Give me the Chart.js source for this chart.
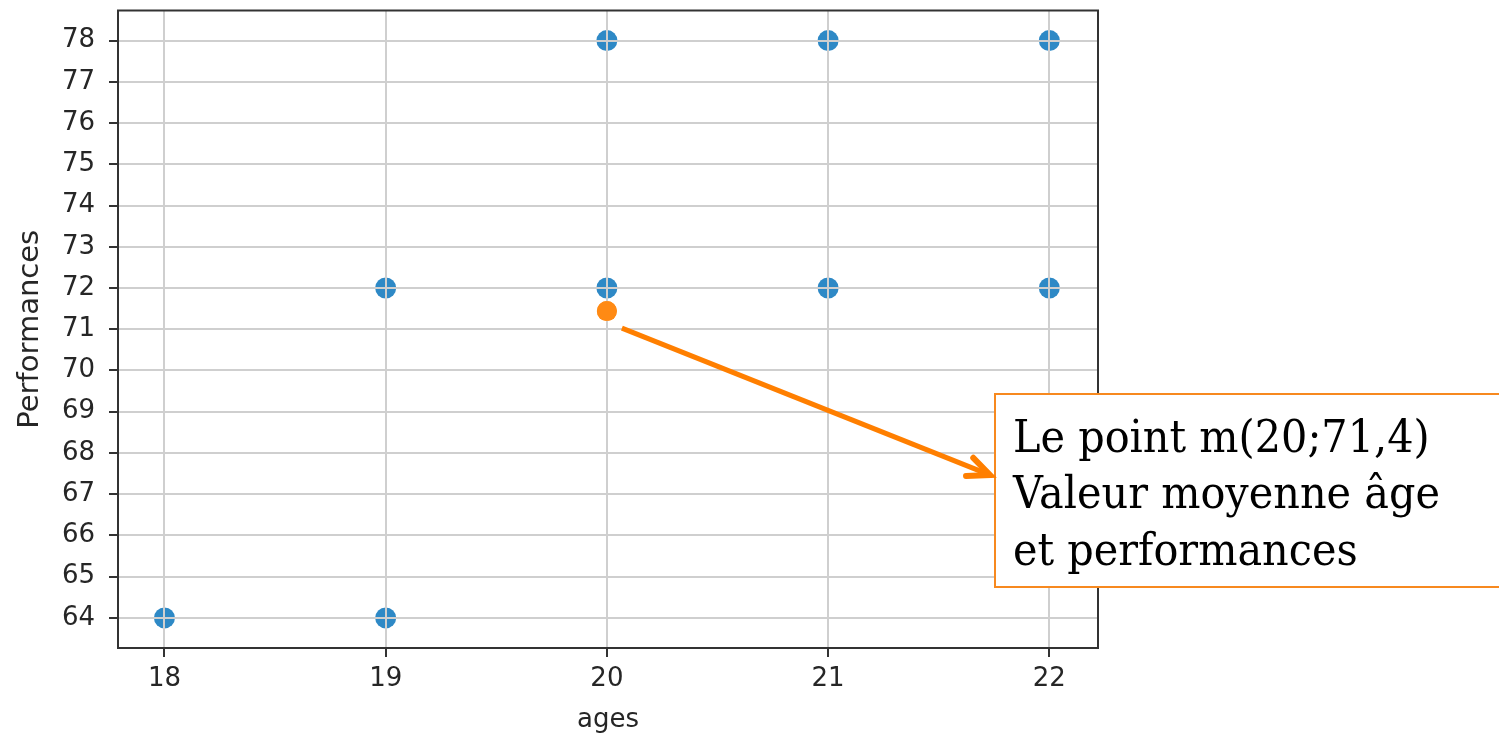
<!DOCTYPE html>
<html>
<head>
<meta charset="utf-8">
<script src="https://cdn.jsdelivr.net/npm/chart.js@4"></script>
<style>
html,body{margin:0;padding:0;background:#fff;}
canvas{display:block;}
</style>
</head>
<body>
<canvas id="c" width="1499" height="737"></canvas>
<script>
// ---- data ----
const ages = [18, 19, 19, 20, 20, 21, 21, 22, 22];
const performances = [64, 64, 72, 72, 78, 72, 78, 72, 78];
const meanAge = [20];
const meanPerformance = [71.44];
const xTicks = [18, 19, 20, 21, 22];
const yTicks = [64, 65, 66, 67, 68, 69, 70, 71, 72, 73, 74, 75, 76, 77, 78];
const annotationLines = ["Le point m(20;71,4)", "Valeur moyenne âge", "et performances"];

const blue = '#2e89c6';
const orange = '#ff8a14';

const framePlugin = {
  id: 'frame',
  afterDraw(chart) {
    const ctx = chart.ctx;
    const a = chart.chartArea;
    // redraw the mean point above grid
    chart.getDatasetMeta(1).data.forEach(el => el.draw(ctx, a));
    ctx.save();
    ctx.strokeStyle = '#333';
    ctx.lineWidth = 2;
    ctx.strokeRect(a.left, a.top, a.right - a.left, a.bottom - a.top);
    ctx.restore();

    // annotation box
    const bx = 995, by = 394, bw = 520, bh = 193;
    ctx.save();
    ctx.fillStyle = '#fff';
    ctx.fillRect(bx, by, bw, bh);
    ctx.strokeStyle = '#f7891f';
    ctx.lineWidth = 2;
    ctx.strokeRect(bx, by, bw, bh);
    // text (slightly stretched vertically like the reference)
    ctx.fillStyle = '#000';
    ctx.textBaseline = 'alphabetic';
    ctx.font = '100px "DejaVu Serif"';
    const w = ctx.measureText(annotationLines[1]).width;
    const size = 100 * 427 / w;
    ctx.font = size.toFixed(2) + 'px "DejaVu Serif"';
    const baselines = [452, 508, 565];
    const sy = 1.1;
    annotationLines.forEach((t, i) => {
      ctx.save();
      ctx.translate(1013, baselines[i]);
      ctx.scale(1, sy);
      ctx.fillText(t, 0, 0);
      ctx.restore();
    });
    ctx.restore();

    // arrow from mean point to box
    const pt = chart.getDatasetMeta(1).data[0];
    const x0 = pt.x + 15, y0 = pt.y + 17;
    const x1 = 990, y1 = 475;
    const ang = Math.atan2(y1 - y0, x1 - x0);
    ctx.save();
    ctx.strokeStyle = '#ff7f00';
    ctx.lineWidth = 5;
    ctx.lineCap = 'butt';
    ctx.beginPath();
    ctx.moveTo(x0, y0);
    ctx.lineTo(x1 - 3 * Math.cos(ang), y1 - 3 * Math.sin(ang));
    ctx.stroke();
    ctx.lineCap = 'round';
    ctx.lineJoin = 'miter';
    ctx.lineWidth = 6;
    const hl = 24, ha = 0.42;
    ctx.beginPath();
    ctx.moveTo(x1 - hl * Math.cos(ang - ha), y1 - hl * Math.sin(ang - ha));
    ctx.lineTo(x1, y1);
    ctx.lineTo(x1 - hl * Math.cos(ang + ha), y1 - hl * Math.sin(ang + ha));
    ctx.stroke();
    ctx.restore();
  }
};

new Chart(document.getElementById('c'), {
  type: 'scatter',
  data: {
    datasets: [
      {
        data: ages.map((a, i) => ({x: a, y: performances[i]})),
        backgroundColor: blue,
        borderWidth: 0,
        pointRadius: 10.5,
        pointHoverRadius: 10.5
      },
      {
        data: meanAge.map((a, i) => ({x: a, y: meanPerformance[i]})),
        backgroundColor: orange,
        borderWidth: 0,
        pointRadius: 10,
        pointHoverRadius: 10
      }
    ]
  },
  options: {
    responsive: false,
    devicePixelRatio: 1,
    animation: false,
    events: [],
    layout: {padding: {left: 0, top: 10, right: 401, bottom: 0}},
    plugins: {legend: {display: false}, tooltip: {enabled: false}},
    scales: {
      x: {
        type: 'linear',
        min: 17.79, max: 22.22,
        afterBuildTicks: s => { s.ticks = xTicks.map(v => ({value: v})); },
        afterFit: s => { s.height = 89; s.paddingLeft = 0; s.paddingRight = 0; },
        grid: {z: 1, color: '#cfcfcf', lineWidth: 2, tickColor: '#333', tickWidth: 2, tickLength: 9, drawTicks: true},
        border: {color: '#333', width: 2, z: 1},
        ticks: {color: '#262626', font: {family: 'DejaVu Sans', size: 26}, padding: 7, maxRotation: 0},
        title: {display: true, text: 'ages', color: '#262626', font: {family: 'DejaVu Sans', size: 26}, padding: {top: 0, bottom: 1}}
      },
      y: {
        type: 'linear',
        min: 63.27, max: 78.73,
        afterBuildTicks: s => { s.ticks = yTicks.map(v => ({value: v})); },
        afterFit: s => { s.width = 118; s.paddingTop = 0; s.paddingBottom = 0; },
        grid: {z: 1, color: '#cfcfcf', lineWidth: 2, tickColor: '#333', tickWidth: 2, tickLength: 9, drawTicks: true},
        border: {color: '#333', width: 2, z: 1},
        ticks: {color: '#262626', font: {family: 'DejaVu Sans', size: 26}, padding: 14},
        title: {display: true, text: 'Performances', color: '#262626', font: {family: 'DejaVu Sans', size: 29}, padding: {top: 13, bottom: 0}}
      }
    }
  },
  plugins: [framePlugin]
});
</script>
</body>
</html>
